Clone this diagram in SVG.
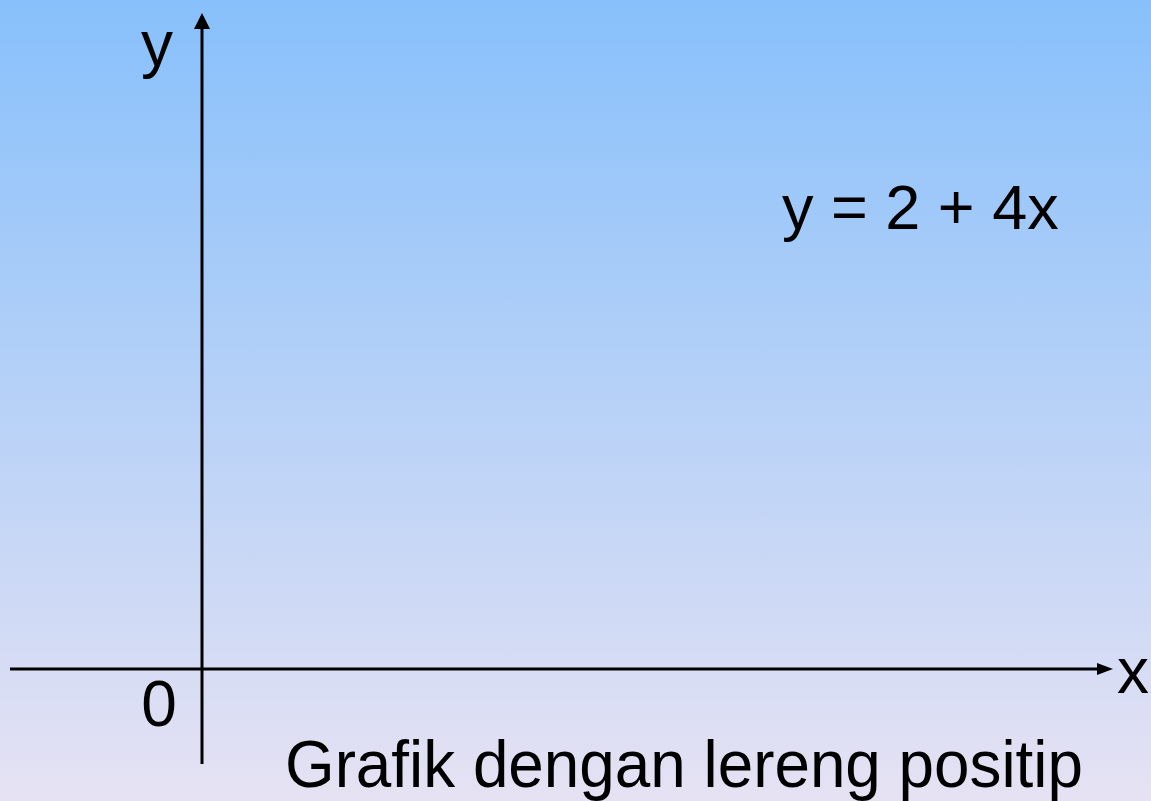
<svg xmlns="http://www.w3.org/2000/svg" width="1151" height="801" viewBox="0 0 1151 801">
  <defs>
    <linearGradient id="bg" x1="0" y1="0" x2="0" y2="1">
      <stop offset="0" stop-color="#87c0fb"/>
      <stop offset="1" stop-color="#e6e2f3"/>
    </linearGradient>
  </defs>
  <style>
    .t { font-family: "Liberation Sans", Arial, sans-serif; fill: #000; }
    .ax { stroke: #000; stroke-width: 3; fill: none; }
  </style>
  <rect width="1151" height="801" fill="url(#bg)"/>
  <g id="connectors">
    <line class="ax" x1="202" y1="764" x2="202" y2="27"/>
    <polygon points="202,13 194,29 210,29" fill="#000"/>
    <line class="ax" x1="10" y1="669" x2="1099" y2="669"/>
    <polygon points="1113,669 1097,663 1097,675" fill="#000"/>
  </g>
  <g id="label-y"><text class="t" x="141" y="66" font-size="64">y</text></g>
  <g id="label-x"><text class="t" x="1117" y="693" font-size="64">x</text></g>
  <g id="label-0"><text class="t" x="159" y="726" font-size="64" text-anchor="middle">0</text></g>
  <g id="equation"><text class="t" x="782" y="229" font-size="63">y = 2 + 4x</text></g>
  <g id="caption"><text class="t" x="285" y="787" font-size="67" textLength="798" lengthAdjust="spacingAndGlyphs">Grafik dengan lereng positip</text></g>
</svg>
